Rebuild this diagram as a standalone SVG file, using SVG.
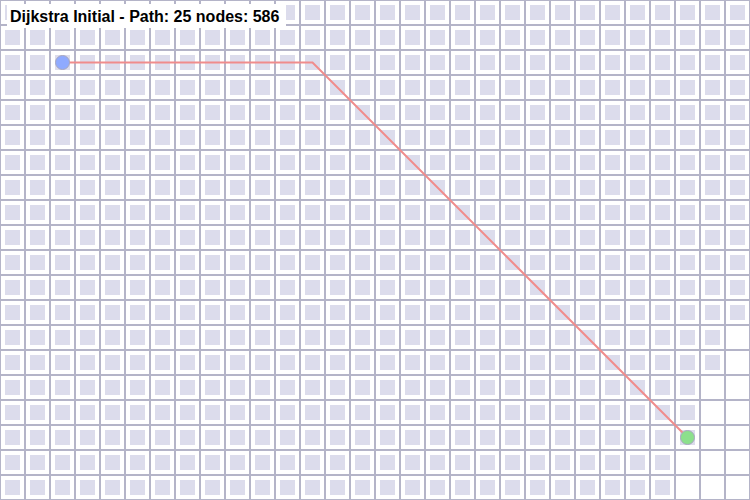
<svg xmlns="http://www.w3.org/2000/svg" width="750" height="500" viewBox="0 0 750 500">
  <style>
    .unv { fill: #ffffff; }
    .path { fill: none; stroke: #f08c8c; stroke-width: 2; stroke-linejoin: miter; }
    .node { stroke: #a8a8c0; stroke-width: 1; }
    .title { font-family: "Liberation Sans", Arial, sans-serif; font-weight: bold; font-size: 16px; fill: #000000; }
  </style>
  <defs>
    <pattern id="cell" x="0" y="0" width="25" height="25" patternUnits="userSpaceOnUse">
      <rect x="0" y="0" width="25" height="25" fill="#ffffff"/>
      <rect x="5" y="5" width="15" height="15" fill="#dcdcec"/>
      <rect x="0" y="0" width="1" height="25" fill="#b4b4c8"/>
      <rect x="24" y="0" width="1" height="25" fill="#b4b4c8"/>
      <rect x="0" y="0" width="25" height="1" fill="#b4b4c8"/>
      <rect x="0" y="24" width="25" height="1" fill="#b4b4c8"/>
    </pattern>
  </defs>
  <g id="grid">
    <rect x="0" y="0" width="750" height="500" fill="url(#cell)"/>
  </g>
  <g id="unvisited">
    <rect class="unv" x="729" y="329" width="17" height="17"/>
    <rect class="unv" x="729" y="354" width="17" height="17"/>
    <rect class="unv" x="704" y="379" width="17" height="17"/>
    <rect class="unv" x="729" y="379" width="17" height="17"/>
    <rect class="unv" x="704" y="404" width="17" height="17"/>
    <rect class="unv" x="729" y="404" width="17" height="17"/>
    <rect class="unv" x="704" y="429" width="17" height="17"/>
    <rect class="unv" x="729" y="429" width="17" height="17"/>
    <rect class="unv" x="679" y="454" width="17" height="17"/>
    <rect class="unv" x="704" y="454" width="17" height="17"/>
    <rect class="unv" x="729" y="454" width="17" height="17"/>
    <rect class="unv" x="679" y="479" width="17" height="17"/>
    <rect class="unv" x="704" y="479" width="17" height="17"/>
    <rect class="unv" x="729" y="479" width="17" height="17"/>
  </g>
  <g id="connectors">
    <polyline class="path" points="62.5,62.5 312.5,62.5 687.5,437.5"/>
  </g>
  <g id="start">
    <circle class="node" cx="62.5" cy="62.5" r="7" fill="#8faaff"/>
  </g>
  <g id="goal">
    <circle class="node" cx="687.5" cy="437.5" r="7" fill="#8ce08c"/>
  </g>
  <g id="title">
    <rect x="7" y="4" width="279" height="24" fill="#ffffff"/>
    <text class="title" x="10" y="22">Dijkstra Initial - Path: 25 nodes: 586</text>
  </g>
</svg>
